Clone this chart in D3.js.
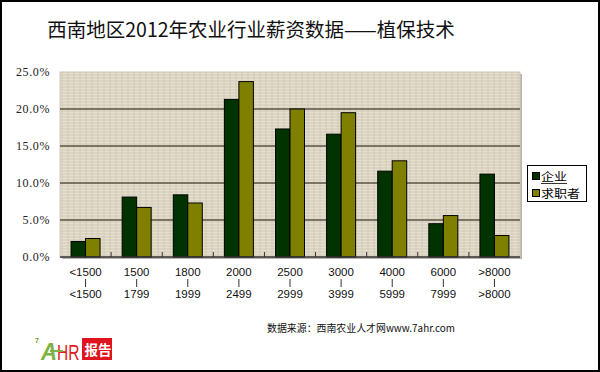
<!DOCTYPE html>
<html><head><meta charset="utf-8">
<script src="https://cdn.jsdelivr.net/npm/d3@7/dist/d3.min.js"></script>
<style>body{margin:0;background:#fff}svg{display:block}</style>
</head><body>
<script>
const categoriesTop = ["<1500","1500","1800","2000","2500","3000","4000","6000",">8000"];
const categoriesBottom = ["<1500","1799","1999","2499","2999","3999","5999","7999",">8000"];
const seriesNames = ["企业","求职者"];
const enterpriseValues = [2.1, 8.1, 8.4, 21.3, 17.3, 16.6, 11.6, 4.5, 11.2];
const seekerValues = [2.5, 6.7, 7.3, 23.7, 20.0, 19.5, 13.0, 5.6, 2.9];
const yTicks = [0, 5, 10, 15, 20, 25];
const yTickLabels = ["0.0%","5.0%","10.0%","15.0%","20.0%","25.0%"];
const colors = ["#003300", "#808000"];
const title = "西南地区2012年农业行业薪资数据——植保技术";
const source = "数据来源：西南农业人才网www.7ahr.com";

const W = 600, H = 372;
const svg = d3.select("body").append("svg").attr("width", W).attr("height", H);
svg.append("rect").attr("x",1).attr("y",1).attr("width",W-2).attr("height",H-2)
  .attr("fill","#fff").attr("stroke","#000").attr("stroke-width",2);

const m = {left:60, right:520, top:72, bottom:257};
const x = d3.scaleBand().domain(d3.range(categoriesTop.length)).range([m.left, m.right]);
const y = d3.scaleLinear().domain([0,25]).range([m.bottom, m.top]);

// texture pattern
const defs = svg.append("defs");
const pat = defs.append("pattern").attr("id","tex").attr("width",6).attr("height",6).attr("patternUnits","userSpaceOnUse");
pat.append("rect").attr("width",6).attr("height",6).attr("fill","#dbd4c2");
pat.append("path").attr("d","M0 1.5H6M0 4.5H6").attr("stroke","#e6e0d1").attr("stroke-width",1);
pat.append("path").attr("d","M2 0V6").attr("stroke","#cfc7b3").attr("stroke-width",0.8);

// shadow
svg.append("rect").attr("x",m.left+2).attr("y",m.top+2).attr("width",m.right-m.left).attr("height",m.bottom-m.top).attr("fill","#b8b4ac");
svg.append("rect").attr("x",m.left).attr("y",m.top).attr("width",m.right-m.left).attr("height",m.bottom-m.top)
  .attr("fill","url(#tex)").attr("stroke","#cfc9bd").attr("stroke-width",1);

// gridlines
svg.append("g").selectAll("line").data(yTicks.filter(d=>d>0 && d<25)).join("line")
  .attr("x1",m.left).attr("x2",m.right).attr("y1",d=>y(d)).attr("y2",d=>y(d))
  .attr("stroke","#5b5345").attr("stroke-width",1.5);

// y labels
svg.append("g").selectAll("text").data(yTicks).join("text")
  .attr("x",50).attr("y",d=>y(d)+4).attr("text-anchor","end")
  .attr("font-family","Liberation Serif, serif").attr("font-size",12).attr("letter-spacing","0.6px").attr("fill","#222")
  .text((d,i)=>yTickLabels[i]);

// bars
const bw = 14.5;
const groups = [enterpriseValues, seekerValues];
groups.forEach((vals, s) => {
  svg.append("g").selectAll("rect").data(vals).join("rect")
    .attr("x",(d,i)=>x(i)+x.bandwidth()/2 - bw + s*bw)
    .attr("y",d=>y(d)).attr("width",bw).attr("height",d=>y(0)-y(d))
    .attr("fill",colors[s]).attr("stroke","#000").attr("stroke-width",1);
});

// bottom axis
svg.append("line").attr("x1",m.left).attr("x2",m.right).attr("y1",m.bottom).attr("y2",m.bottom).attr("stroke","#333").attr("stroke-width",1.5);
svg.append("g").selectAll("line").data(d3.range(1,categoriesTop.length)).join("line")
  .attr("x1",d=>x(d)).attr("x2",d=>x(d)).attr("y1",m.bottom).attr("y2",m.bottom-5)
  .attr("stroke","#333").attr("stroke-width",1);

// x labels
const xl = svg.append("g").attr("font-family","Liberation Sans, Arial, sans-serif").attr("font-size",11.5).attr("fill","#111").attr("text-anchor","middle");
categoriesTop.forEach((c,i)=>{
  const cx = x(i)+x.bandwidth()/2;
  xl.append("text").attr("x",cx).attr("y",276).text(c);
  xl.append("line").attr("x1",cx).attr("x2",cx).attr("y1",279).attr("y2",287).attr("stroke","#333").attr("stroke-width",1);
  xl.append("text").attr("x",cx).attr("y",298).text(categoriesBottom[i]);
});

// legend
svg.append("rect").attr("x",527.5).attr("y",165.5).attr("width",59).attr("height",36).attr("fill","#fff").attr("stroke","#000").attr("stroke-width",1);
seriesNames.forEach((n,i)=>{
  svg.append("rect").attr("x",532.5).attr("y",172.5+i*17).attr("width",7).attr("height",7).attr("fill",colors[i]).attr("stroke","#000");
  svg.append("text").attr("x",541).attr("y",181+i*17).attr("font-family","Noto Sans CJK SC").attr("font-size",11.5)
    .attr("textLength",n.length*13).attr("lengthAdjust","spacingAndGlyphs").attr("fill","#000").text(n);
});
svg.append("line").attr("x1",541).attr("x2",567).attr("y1",183.5).attr("y2",183.5).attr("stroke","#000").attr("stroke-width",0.8);

// title
svg.append("text").attr("x",251).attr("y",37).attr("text-anchor","middle")
  .attr("font-family","Noto Sans CJK SC").attr("font-size",19.5).attr("fill","#111").text(title);

// source
svg.append("text").attr("x",267).attr("y",332).attr("font-family","Noto Sans CJK SC").attr("font-size",10.5)
  .attr("textLength",188).attr("lengthAdjust","spacingAndGlyphs").attr("fill","#111").text(source);

// logo
const lg = svg.append("g").attr("font-family","Liberation Sans, sans-serif").attr("font-weight","bold");
lg.append("text").attr("x",35).attr("y",343).attr("font-size",7).attr("fill","#6aa82e").text("7");
lg.append("text").attr("x",41).attr("y",360).attr("font-size",23).attr("font-style","italic").attr("fill","#7cb342")
  .attr("textLength",16).attr("lengthAdjust","spacingAndGlyphs").text("A");
lg.append("text").attr("x",57).attr("y",360).attr("font-size",15.5).attr("fill","#e02020").attr("font-weight","normal")
  .attr("transform","translate(0,360) scale(1,1.4) translate(0,-360)").text("HR");
lg.append("line").attr("x1",50).attr("x2",63).attr("y1",351).attr("y2",351).attr("stroke","#7cb342").attr("stroke-width",2);
lg.append("rect").attr("x",82).attr("y",338).attr("width",30).attr("height",22).attr("fill","#e0141e");
lg.append("text").attr("x",98).attr("y",355).attr("text-anchor","middle").attr("font-family","Noto Sans CJK SC").attr("font-size",13.5).attr("fill","#fff").text("报告");
</script>
</body></html>
